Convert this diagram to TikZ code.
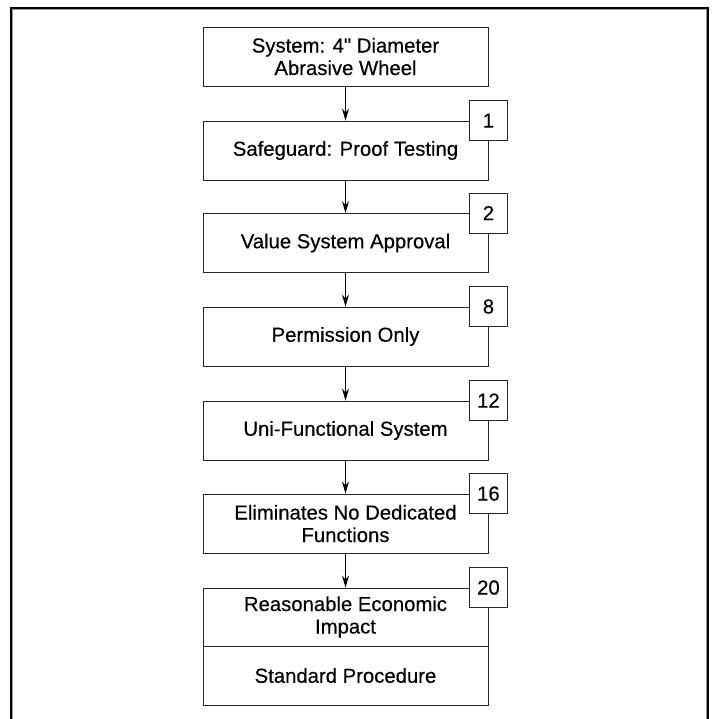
\documentclass[tikz,border=0pt]{standalone}
\usepackage{fontspec}
\setmainfont{Liberation Sans}
\newfontfamily\boxfont[FakeBold=0.3]{Liberation Sans}
\usetikzlibrary{arrows.meta}
\begin{document}
\begin{tikzpicture}[x=1pt,y=-1pt,
  box/.style={draw=black!85,line width=0.9pt,fill=white,minimum width=285pt,minimum height=59pt,inner sep=0pt,align=center,font=\boxfont\fontsize{20.3}{22.5}\selectfont},
  numbox/.style={draw=black!85,line width=0.9pt,fill=white,minimum width=38pt,minimum height=40pt,inner sep=0pt,font=\boxfont\fontsize{20.3}{22.5}\selectfont},
  conn/.style={line width=0.9pt,-{Stealth[length=12pt,width=7pt,inset=4pt]}}]
\useasboundingbox (0,0) rectangle (716,719);
% frame
\draw[black!40,line width=1pt] (12.6,719) -- (12.6,9.9) -- (706.1,9.9) -- (706.1,719);
\draw[black,line width=1.6pt] (11,719) -- (11,8.3) -- (707.8,8.3) -- (707.8,719);
% boxes
\node[box] (b1) at (345.5,56.5) {System: 4{\char34} Diameter\\Abrasive Wheel};
\node[box] (b2) at (345.5,150.5) {Safeguard: Proof Testing};
\node[box] (b3) at (345.5,243) {Value System Approval};
\node[box] (b4) at (345.5,336.5) {Permission Only};
\node[box] (b5) at (345.5,430.5) {Uni-Functional System};
\node[box] (b6) at (345.5,523.5) {Eliminates No Dedicated\\Functions};
\node[box,minimum height=58pt] (b7) at (345.5,617) {Reasonable Economic\\Impact};
\node[box] (b8) at (345.5,675.5) {Standard Procedure};
% connectors
\draw[conn] (b1.south) -- (b2.north);
\draw[conn] (b2.south) -- (b3.north);
\draw[conn] (b3.south) -- (b4.north);
\draw[conn] (b4.south) -- (b5.north);
\draw[conn] (b5.south) -- (b6.north);
\draw[conn] (b6.south) -- (b7.north);
% number boxes
\node[numbox] (n1) at (b2.north east) {1};
\node[numbox] (n2) at (b3.north east) {2};
\node[numbox] (n8) at (b4.north east) {8};
\node[numbox] (n12) at (b5.north east) {12};
\node[numbox] (n16) at (b6.north east) {16};
\node[numbox] (n20) at (b7.north east) {20};
\end{tikzpicture}
\end{document}
